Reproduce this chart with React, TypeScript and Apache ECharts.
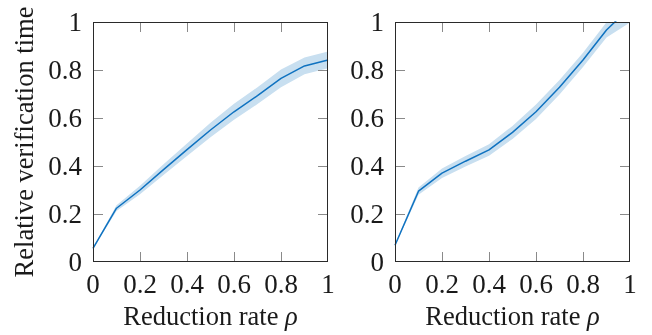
import React, { useEffect, useRef } from "react";
import * as echarts from "echarts";

const xs = [0, 0.1, 0.2, 0.3, 0.4, 0.5, 0.6, 0.7, 0.8, 0.9, 1.0];
const leftMean = [0.057, 0.224, 0.3, 0.385, 0.468, 0.55, 0.626, 0.693, 0.765, 0.817, 0.842];
const leftSpread = [0.003, 0.012, 0.018, 0.022, 0.026, 0.03, 0.033, 0.035, 0.037, 0.035, 0.035];
const rightMean = [0.07, 0.295, 0.37, 0.42, 0.467, 0.54, 0.626, 0.728, 0.842, 0.967, 1.06];
const rightSpread = [0.003, 0.015, 0.02, 0.022, 0.024, 0.027, 0.03, 0.03, 0.03, 0.032, 0.062];
const innerTicks = [0.2, 0.4, 0.6, 0.8];
const xTitle = "Reduction rate {i|ρ}";
const yTitle = "Relative verification time";

const FONT = "Liberation Serif";
const LINE = "#0f72c0";
const BAND = "#c8dff0";
const FRAME = "#2a2a2a";
const TICK = "#8a8a8a";
const TICK_LEN = 10;

function fmt(v: number) {
  if (v === 0) return "0";
  if (v === 1) return "1";
  return v.toFixed(1);
}

export default function App() {
  const ref = useRef<HTMLDivElement>(null);
  useEffect(() => {
    if (!ref.current) return;
    const chart = echarts.init(ref.current, null, { renderer: "svg" });
    const grids = [
      { left: 93, top: 22, width: 235, height: 240 },
      { left: 395, top: 22, width: 235, height: 240 },
    ];
    const labelStyle = { fontFamily: FONT, fontSize: 27, color: "#1a1a1a" };
    const xAxes: any[] = [];
    const yAxes: any[] = [];
    grids.forEach((_, gi) => {
      xAxes.push({
        type: "value", gridIndex: gi, min: 0, max: 1, interval: 0.2,
        axisLine: { show: false, onZero: false }, axisTick: { show: false }, splitLine: { show: false },
        axisLabel: { ...labelStyle, margin: 8, formatter: fmt },
      });
      yAxes.push({
        type: "value", gridIndex: gi, min: 0, max: 1, interval: 0.2,
        axisLine: { show: false, onZero: false }, axisTick: { show: false }, splitLine: { show: false },
        axisLabel: { ...labelStyle, margin: 11, formatter: fmt },
      });
    });
    const series: any[] = [];
    const sets = [
      { mean: leftMean, spread: leftSpread },
      { mean: rightMean, spread: rightSpread },
    ];
    sets.forEach((s, gi) => {
      const lower = xs.map((x, i) => [x, s.mean[i] - s.spread[i]]);
      const upper = xs.map((x, i) => [x, s.mean[i] + s.spread[i]]);
      // shaded band between lower and upper edge
      series.push({
        type: "custom", xAxisIndex: gi, yAxisIndex: gi, silent: true, clip: true, z: 1,
        data: [[0, 0]],
        renderItem: (_p: any, api: any) => {
          const pts = upper.map((p) => api.coord(p)).concat(lower.slice().reverse().map((p) => api.coord(p)));
          return { type: "polygon", shape: { points: pts }, style: { fill: BAND, stroke: null } };
        },
      });
      // mean curve
      series.push({
        type: "line", xAxisIndex: gi, yAxisIndex: gi,
        data: xs.map((x, i) => [x, s.mean[i]]),
        symbol: "none", lineStyle: { color: LINE, width: 1.5 }, clip: true, z: 3,
      });
      // frame and inward ticks on all four sides, placed through the axes' scales
      series.push({
        type: "custom", xAxisIndex: gi, yAxisIndex: gi, silent: true, clip: false, z: 4,
        data: [[0, 0]],
        renderItem: (_p: any, api: any) => {
          const [x0, y0] = api.coord([0, 0]);
          const [x1, y1] = api.coord([1, 1]);
          const L = Math.round(x0), R = Math.round(x1) - 1, T = Math.round(y1), B = Math.round(y0) - 1;
          const children: any[] = [];
          innerTicks.forEach((v) => {
            const px = Math.round(api.coord([v, 0])[0]);
            const py = Math.round(api.coord([0, v])[1]);
            children.push({ type: "rect", shape: { x: px, y: B - TICK_LEN + 1, width: 1, height: TICK_LEN }, style: { fill: TICK } });
            children.push({ type: "rect", shape: { x: px, y: T, width: 1, height: TICK_LEN }, style: { fill: TICK } });
            children.push({ type: "rect", shape: { x: L, y: py, width: TICK_LEN, height: 1 }, style: { fill: TICK } });
            children.push({ type: "rect", shape: { x: R - TICK_LEN + 1, y: py, width: TICK_LEN, height: 1 }, style: { fill: TICK } });
          });
          children.push({ type: "rect", shape: { x: L, y: T, width: 1, height: B - T + 1 }, style: { fill: FRAME } });
          children.push({ type: "rect", shape: { x: R, y: T, width: 1, height: B - T + 1 }, style: { fill: FRAME } });
          children.push({ type: "rect", shape: { x: L, y: T, width: R - L + 1, height: 1 }, style: { fill: FRAME } });
          children.push({ type: "rect", shape: { x: L, y: B, width: R - L + 1, height: 1 }, style: { fill: FRAME } });
          return { type: "group", children };
        },
      });
    });
    const titleFont = { fontFamily: FONT, fontSize: 26.5, fill: "#1a1a1a" };
    const graphic: any[] = [
      {
        type: "text", x: 24, y: 142, rotation: Math.PI / 2,
        style: { text: yTitle, ...titleFont, align: "center", verticalAlign: "middle" },
      },
      ...grids.map((g) => ({
        type: "text", x: g.left + g.width / 2, y: 316,
        style: {
          text: xTitle, ...titleFont, align: "center", verticalAlign: "middle",
          rich: { i: { fontFamily: FONT, fontSize: 26.5, fontStyle: "italic", fill: "#1a1a1a" } },
        },
      })),
    ];
    chart.setOption({
      animation: false,
      grid: grids,
      xAxis: xAxes,
      yAxis: yAxes,
      series,
      graphic,
    });
    return () => chart.dispose();
  }, []);
  return <div ref={ref} style={{ position: "fixed", left: 0, top: 0, width: 652, height: 335 }} />;
}
